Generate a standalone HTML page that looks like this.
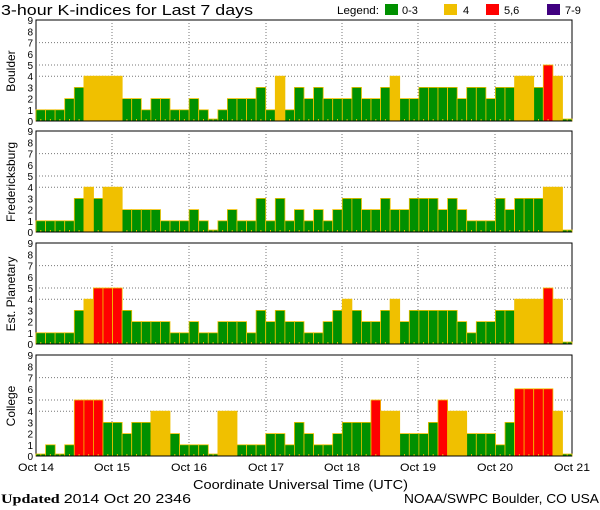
<!DOCTYPE html>
<html><head><meta charset="utf-8"><style>
html,body{margin:0;padding:0;background:#fff;}
svg{display:block;font-family:"Liberation Sans",sans-serif;}
</style></head><body>
<svg id="s" width="600" height="510" viewBox="0 0 600 510" xmlns="http://www.w3.org/2000/svg">
<rect width="600" height="510" fill="#fff"/>
<text x="1" y="15" font-size="15" fill="#000" textLength="252" lengthAdjust="spacingAndGlyphs">3-hour K-indices for Last 7 days</text>
<text x="337" y="14" font-size="11" textLength="42" lengthAdjust="spacingAndGlyphs">Legend:</text>
<rect x="385" y="4" width="13" height="11" fill="#009000"/><text x="402" y="14" font-size="11">0-3</text>
<rect x="444" y="4" width="13" height="11" fill="#f0c000"/><text x="463" y="14" font-size="11">4</text>
<rect x="486" y="4" width="13" height="11" fill="#ff0000"/><text x="504" y="14" font-size="11">5,6</text>
<rect x="547" y="4" width="13" height="11" fill="#400080"/><text x="565" y="14" font-size="11">7-9</text>
<text transform="translate(15,71) rotate(-90)" font-size="12" text-anchor="middle">Boulder</text>
<text transform="translate(15,182) rotate(-90)" font-size="12" text-anchor="middle">Fredericksburg</text>
<text transform="translate(15,294) rotate(-90)" font-size="12" text-anchor="middle">Est. Planetary</text>
<text transform="translate(15,406) rotate(-90)" font-size="12" text-anchor="middle">College</text>
<g font-size="11">
<text x="18" y="471" textLength="36" lengthAdjust="spacingAndGlyphs">Oct 14</text>
<text x="94" y="471" textLength="36" lengthAdjust="spacingAndGlyphs">Oct 15</text>
<text x="171" y="471" textLength="36" lengthAdjust="spacingAndGlyphs">Oct 16</text>
<text x="248" y="471" textLength="36" lengthAdjust="spacingAndGlyphs">Oct 17</text>
<text x="324" y="471" textLength="36" lengthAdjust="spacingAndGlyphs">Oct 18</text>
<text x="400" y="471" textLength="36" lengthAdjust="spacingAndGlyphs">Oct 19</text>
<text x="477" y="471" textLength="36" lengthAdjust="spacingAndGlyphs">Oct 20</text>
<text x="554" y="471" textLength="36" lengthAdjust="spacingAndGlyphs">Oct 21</text>
<text x="193" y="489" font-size="13" textLength="215" lengthAdjust="spacingAndGlyphs">Coordinate Universal Time (UTC)</text>
</g>
<text x="1" y="503" font-size="13" font-family="Liberation Serif,serif" textLength="190" lengthAdjust="spacingAndGlyphs"><tspan font-weight="bold">Updated</tspan> <tspan font-family="Liberation Sans,sans-serif">2014 Oct 20 2346</tspan></text>
<text x="404" y="503" font-size="13" textLength="195" lengthAdjust="spacingAndGlyphs">NOAA/SWPC Boulder, CO USA</text>
<g id="g"></g>
</svg>
<script>
var D=[
[1,1,1,2,3,4,4,4, 4,2,2,1,2,2,1,1, 2,1,0,1,2,2,2,3, 1,4,1,3,2,3,2,2, 2,3,2,2,3,4,2,2, 3,3,3,3,2,3,3,2, 3,3,4,4,3,5,4,0],
[1,1,1,1,3,4,3,4, 4,2,2,2,2,1,1,1, 2,1,0,1,2,1,1,3, 1,3,1,2,1,2,1,2, 3,3,2,2,3,2,2,3, 3,3,2,3,2,1,1,1, 3,2,3,3,3,4,4,0],
[1,1,1,1,3,4,5,5, 5,3,2,2,2,2,1,1, 2,1,1,2,2,2,1,3, 2,3,2,2,1,1,2,3, 4,3,2,2,3,4,2,3, 3,3,3,3,2,1,2,2, 3,3,4,4,4,5,4,0],
[0,1,0,1,5,5,5,3, 3,2,3,3,4,4,2,1, 1,1,0,4,4,1,1,1, 2,2,1,3,2,1,1,2, 3,3,3,5,4,4,2,2, 2,3,5,4,4,2,2,2, 1,3,6,6,6,6,4,0]];
var tops=[20,131,243,355],H=101,u=11.2,x0=36,x1=572,bw=(x1-x0)/56;
var h='',days=[36,112,189,266,342,418,495,572];
for(var p=0;p<4;p++){var t=tops[p],b=t+H;
 h+='<rect x="'+x0+'" y="'+t+'" width="'+(x1-x0)+'" height="'+H+'" fill="#fff" stroke="#000" stroke-width="1"/>';
 [4,5,7].forEach(function(k){var y=(b-k*u).toFixed(1);h+='<line x1="'+x0+'" x2="'+x1+'" y1="'+y+'" y2="'+y+'" stroke="#777" stroke-dasharray="1,2"/>';});
 for(var d=1;d<7;d++)h+='<line x1="'+days[d]+'" x2="'+days[d]+'" y1="'+t+'" y2="'+b+'" stroke="#777" stroke-dasharray="1,2"/>';
 for(var k=0;k<=9;k++)h+='<text x="33" y="'+(b-k*u+4).toFixed(1)+'" font-size="10" text-anchor="end">'+k+'</text>';
 for(var i=0;i<56;i++){var v=D[p][i],c=v<=3?'#009000':v==4?'#f0c000':'#ff0000';var hh=v==0?2:v*u;var x=x0+i*bw;
  h+='<rect x="'+x.toFixed(1)+'" y="'+(b-hh).toFixed(1)+'" width="'+(bw).toFixed(1)+'" height="'+hh.toFixed(1)+'" fill="'+c+'" stroke="#f0c000" stroke-width="0.8"/>';
  h+='<rect x="'+(x+bw/2-0.5).toFixed(1)+'" y="'+(b-2)+'" width="1" height="2" fill="#f0c000"/>';}
 h+='<line x1="'+x0+'" x2="'+x1+'" y1="'+b+'" y2="'+b+'" stroke="#000"/>';
}
document.getElementById('g').innerHTML=h;
</script>
</body></html>
